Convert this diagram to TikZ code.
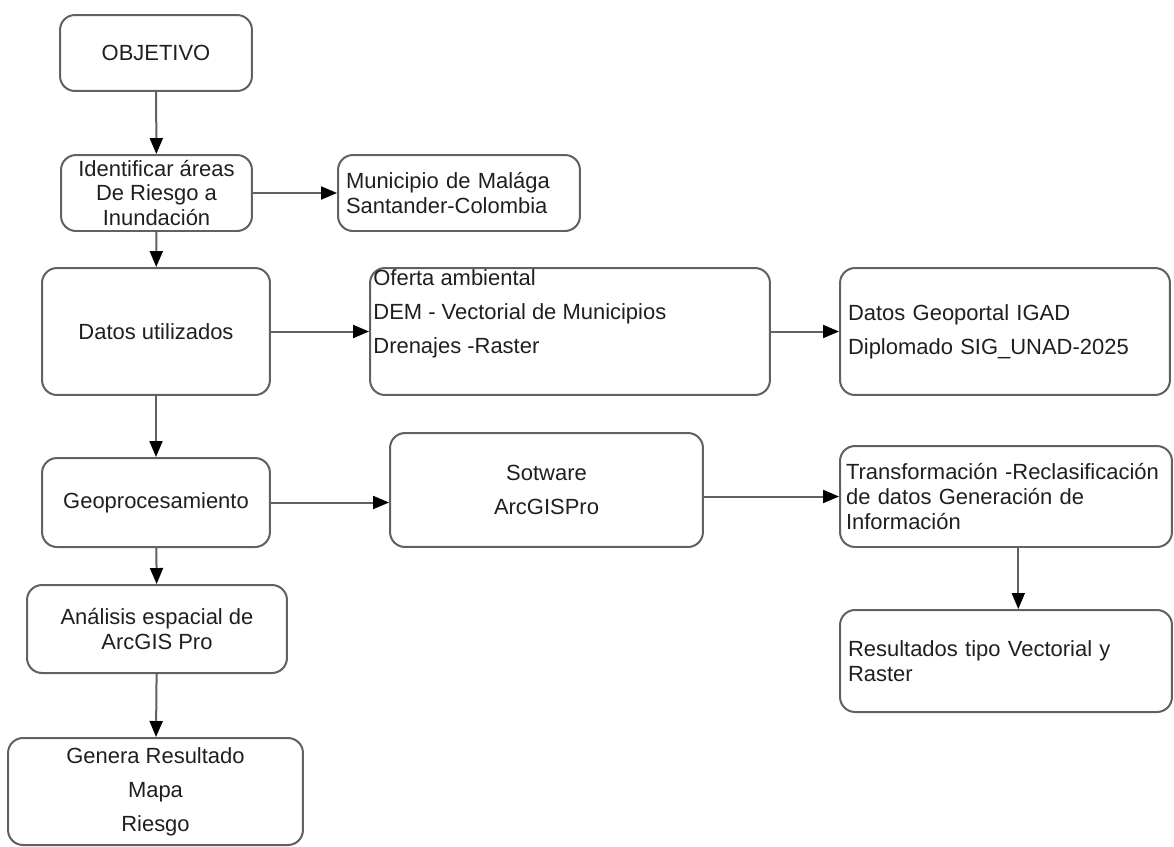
\documentclass[tikz,border=0pt]{standalone}
\usepackage{fontspec}
\setmainfont{Liberation Sans}
\usetikzlibrary{arrows.meta}
\begin{document}
\begin{tikzpicture}[x=0.02cm,y=-0.02cm,
  box/.style={draw=black!62,line width=0.04cm,rounded corners=0.3cm,text=black!88,inner sep=0pt,font=\fontsize{12.5}{14.2}\selectfont},
  leftbox/.style={box,align=left,inner xsep=0.16cm},
  loose/.style={font=\fontsize{12.5}{19.3}\selectfont},
  flow/.style={draw=black!62,line width=0.04cm,-{Triangle[length=0.32cm,width=0.26cm,color=black]}}]

    \useasboundingbox (0,0) rectangle (1174,846);

    % left column
    \node[box,minimum width=3.84cm,minimum height=1.52cm] (obj) at (156,53) {OBJETIVO};
    \node[box,minimum width=3.82cm,minimum height=1.52cm,align=center] (ident) at (156.5,193) {Identificar áreas\\De Riesgo a\\Inundación};
    \node[box,minimum width=4.56cm,minimum height=2.54cm] (datos) at (156,331.5) {Datos utilizados};
    \node[box,minimum width=4.56cm,minimum height=1.78cm] (geoproc) at (156,502.5) {Geoprocesamiento};
    \node[box,minimum width=5.2cm,minimum height=1.76cm,align=center] (analisis) at (157,629) {Análisis espacial de\\ArcGIS Pro};
    \node[box,loose,minimum width=5.9cm,minimum height=2.14cm,align=center] (genera) at (155.5,791.5) {Genera Resultado\\Mapa\\Riesgo};

    % right side
    \node[leftbox,text width=4.52cm,minimum height=1.52cm] (muni) at (459,193) {Municipio de Malága\\Santander-Colombia};
    \node[box,minimum width=8cm,minimum height=2.54cm] (oferta) at (570,331.5) {};
    \node[anchor=north west,inner sep=0pt,align=left,text=black!88,font=\fontsize{12.5}{19.3}\selectfont] (ofertatxt) at ([shift={(4,2)}]oferta.north west) {Oferta ambiental\\DEM - Vectorial de Municipios\\Drenajes -Raster};
    \node[leftbox,loose,text width=6.28cm,minimum height=2.54cm] (geoportal) at (1005,331.5) {Datos Geoportal IGAD\\Diplomado SIG\_UNAD-2025};
    \node[box,loose,minimum width=6.26cm,minimum height=2.28cm,align=center] (sotware) at (546.5,490) {Sotware\\ArcGISPro};
    \node[leftbox,inner xsep=0.12cm,text width=6.4cm,minimum height=2.02cm] (transf) at (1006,496.5) {Transformación -Reclasificación\\de datos Generación de\\Información};
    \node[leftbox,text width=6.32cm,minimum height=2.04cm] (result) at (1006,661) {Resultados tipo Vectorial y\\Raster};

    \draw[flow] (obj) -- (ident);
    \draw[flow] (ident) -- (muni);
    \draw[flow] (ident) -- (datos);
    \draw[flow] (datos) -- (oferta);
    \draw[flow] (oferta) -- (geoportal);
    \draw[flow] (datos) -- (geoproc);
    \draw[flow] (geoproc.east) -- (geoproc.east -| sotware.west);
    \draw[flow] (transf.west -| sotware.east) -- (transf.west);
    \draw[flow] ([xshift=7]transf.south) -- ([xshift=7]result.north);
    \draw[flow] (geoproc) -- (analisis);
    \draw[flow] (analisis) -- (genera);

\end{tikzpicture}
\end{document}
